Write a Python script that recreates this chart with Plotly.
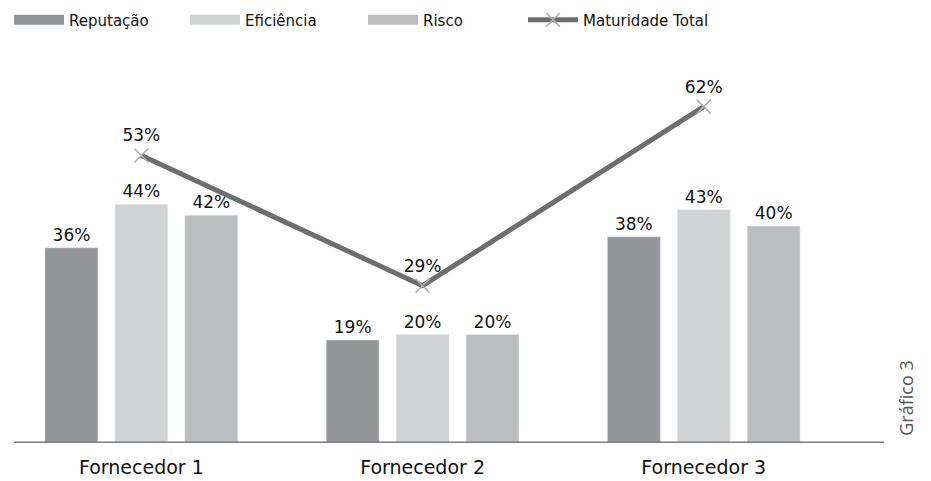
import plotly.graph_objects as go

categories = ["Fornecedor 1", "Fornecedor 2", "Fornecedor 3"]
reputacao = [36, 19, 38]
eficiencia = [44, 20, 43]
risco = [42, 20, 40]
maturidade = [53, 29, 62]

def pct(vals):
    return [f"{v}%" for v in vals]

W, H = 931, 481
fig = go.Figure()
bar_font = dict(family="DejaVu Sans", size=17, color="#111111")
legend_names = ["legend", "legend2", "legend3", "legend4"]
bar_series = [("Reputação", reputacao, "#939598"),
              ("Eficiência", eficiencia, "#d1d2d4"),
              ("Risco", risco, "#bcbdbf")]
for i, (name, vals, color) in enumerate(bar_series):
    fig.add_trace(go.Bar(x=categories, y=vals, name=name, marker_color=color,
                         text=pct(vals), textposition="outside", textfont=bar_font,
                         cliponaxis=False, showlegend=False))
    # legend-only entry with a wide rectangular swatch
    fig.add_trace(go.Scatter(x=[None], y=[None], name=name, mode="lines",
                             line=dict(color=color, width=10),
                             legend=legend_names[i], showlegend=True,
                             hoverinfo="skip"))

fig.add_trace(go.Scatter(x=categories, y=maturidade, name="Maturidade Total",
                         mode="lines+markers+text",
                         line=dict(color="#6d6e70", width=5),
                         marker=dict(symbol="x-thin", size=14,
                                     line=dict(color="#b0b0b0", width=1.5), color="#b0b0b0"),
                         text=pct(maturidade), textposition="top center",
                         textfont=bar_font, cliponaxis=False, legend="legend4"))

leg_font = dict(family="DejaVu Sans", size=15, color="#111111")
text_x = [69, 245, 423, 583]
legends = {}
for ln, tx in zip(legend_names, text_x):
    legends[ln] = dict(orientation="h", x=(tx - 8 - 60) / W, y=1 - 12 / H,
                       xref="container", yref="container",
                       xanchor="left", yanchor="middle",
                       font=leg_font, itemwidth=50, bgcolor="rgba(0,0,0,0)")

fig.update_layout(
    width=W, height=H,
    margin=dict(l=6, r=55, t=52, b=46),
    paper_bgcolor="white", plot_bgcolor="white",
    barmode="group", bargap=0.254, bargroupgap=0.243,
    font=dict(family="DejaVu Sans", color="#111111"),
    showlegend=True,
    xaxis=dict(range=[-0.453, 2.641], showgrid=False, zeroline=False,
               showline=False, ticks="", ticklabelstandoff=11,
               tickfont=dict(family="DejaVu Sans", size=19, color="#111111")),
    yaxis=dict(range=[0, 70.6], visible=False, showgrid=False),
    **legends,
)
fig.add_shape(type="line", xref="paper", yref="y", x0=0, x1=1, y0=0, y1=0,
              line=dict(color="#7f7f7f", width=3))
fig.add_annotation(text="Gráfico 3", xref="paper", yref="paper", x=1.025, y=0.1175,
                   xanchor="center", yanchor="middle",
                   textangle=-90, showarrow=False,
                   font=dict(family="Open Sans", size=18, color="#555555"))
fig.write_html("out.html")
